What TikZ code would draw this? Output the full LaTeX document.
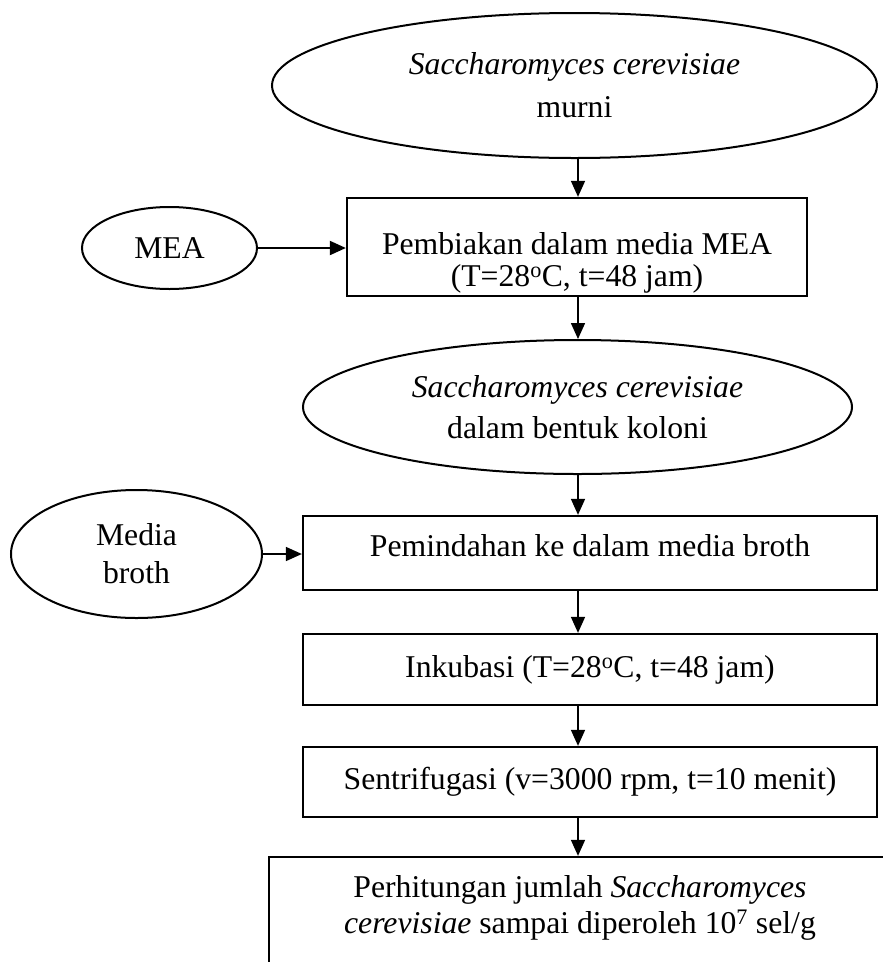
\documentclass[tikz,border=0pt]{standalone}
\usepackage{fontspec}
\setmainfont{Liberation Serif}
\usetikzlibrary{arrows.meta,shapes.geometric}

\tikzset{
  base/.style={font=\fontsize{31.7}{38}\selectfont},
  oval/.style={ellipse, draw, line width=2pt, inner sep=0pt, align=center, base},
  stepbox/.style={rectangle, draw, line width=2.3pt, inner sep=0pt, align=center, base},
  txt/.style={inner sep=0pt, align=center, base},
  arr/.style={-{Triangle[length=16pt,width=14pt]}, line width=1.6pt},
}

\begin{document}
\begin{tikzpicture}[x=1pt,y=-1pt]
\useasboundingbox (0,0) rectangle (883,962);
\clip (0,0) rectangle (883,962);

% vertical line the main flow runs along
\coordinate (spine) at (578,0);

% main column
\node[oval, minimum width=605pt, minimum height=145pt, font=\fontsize{31.7}{43}\selectfont]
  (murni) at (574.5,85.5) {\textit{Saccharomyces cerevisiae}\\murni};

\node[stepbox, minimum width=460pt, minimum height=98pt] (biak) at (577,247) {};
\node[txt, font=\fontsize{31.7}{32}\selectfont] (biak-text) at (577,263)
  {Pembiakan dalam media MEA\\(T=28\textsuperscript{o}C, t=48 jam)};

\node[oval, minimum width=549pt, minimum height=134pt, font=\fontsize{31.7}{41}\selectfont]
  (koloni) at (577.5,407) {\textit{Saccharomyces cerevisiae}\\dalam bentuk koloni};

\node[stepbox, minimum width=574pt, minimum height=74pt] (pindah) at (590,553) {};
\node[txt] (pindah-text) at (590,546) {Pemindahan ke dalam media broth};

\node[stepbox, minimum width=574pt, minimum height=71pt] (inkubasi) at (590,669.5)
  {Inkubasi (T=28\textsuperscript{o}C, t=48 jam)};

\node[stepbox, minimum width=574pt, minimum height=70pt] (sentri) at (590,782)
  {Sentrifugasi (v=3000 rpm, t=10 menit)};

\node[stepbox, minimum width=622pt, minimum height=118pt] (hitung) at (580,916) {};
\node[txt, font=\fontsize{31.7}{36}\selectfont] (hitung-text) at (580,908)
  {Perhitungan jumlah \textit{Saccharomyces}\\\textit{cerevisiae} sampai diperoleh 10\textsuperscript{7} sel/g};

% side inputs
\node[oval, minimum width=175pt, minimum height=82pt] (mea) at (169.5,248) {MEA};
\node[oval, minimum width=251pt, minimum height=128pt] (broth) at (136.5,554) {Media\\broth};

% connectors
\draw[arr] (murni.south -| spine) -- (biak.north -| spine);
\draw[arr] (biak.south -| spine) -- (koloni.north -| spine);
\draw[arr] (koloni.south -| spine) -- (pindah.north -| spine);
\draw[arr] (pindah.south -| spine) -- (inkubasi.north -| spine);
\draw[arr] (inkubasi.south -| spine) -- (sentri.north -| spine);
\draw[arr] (sentri.south -| spine) -- (hitung.north -| spine);
\draw[arr, line width=2pt] (mea.east) -- (mea.east -| biak.west);
\draw[arr] (broth.east) -- (broth.east -| pindah.west);
\end{tikzpicture}
\end{document}
